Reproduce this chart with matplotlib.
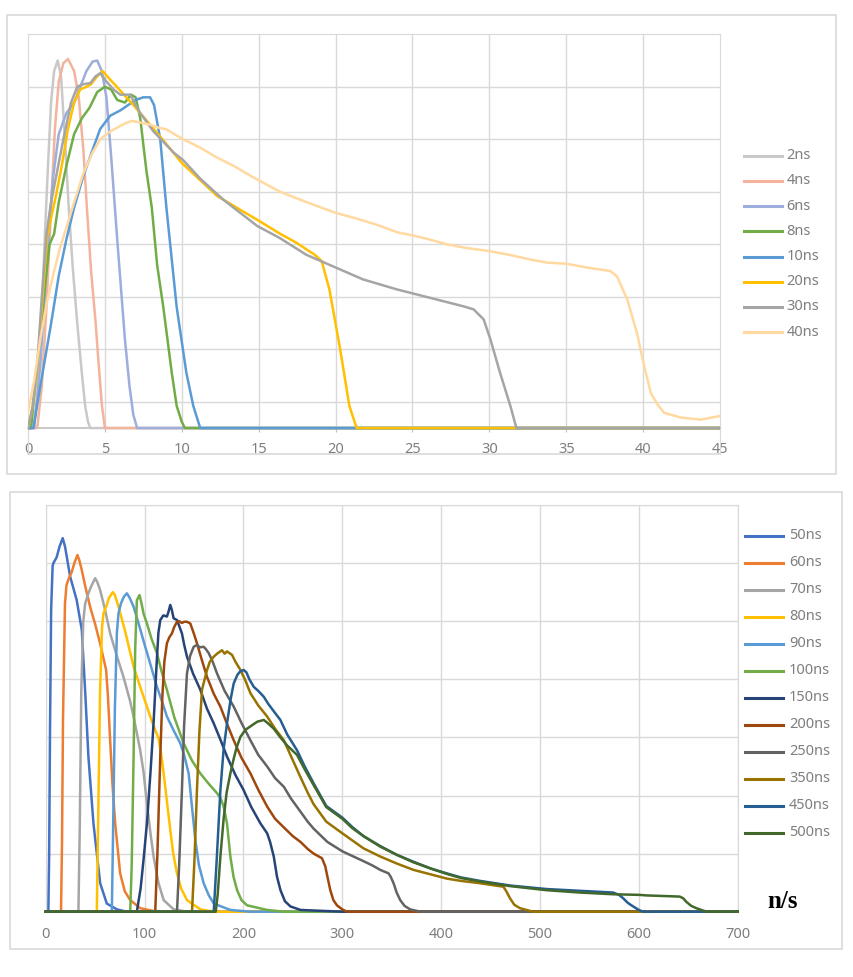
import matplotlib
matplotlib.use('Agg')
import matplotlib.pyplot as plt
from matplotlib.lines import Line2D
from matplotlib.patches import Rectangle
import numpy as np

plt.rcParams['font.family'] = ['Noto Sans', 'DejaVu Sans']

W, H = 854, 977

# ---------------- top panel data (x in ns-axis units, y arbitrary) ----------------
t2_x = [0, 0.37, 0.6, 0.85, 1.1, 1.3, 1.5, 1.7, 1.93, 2.15, 2.4, 2.65, 2.9, 3.2, 3.5, 3.72, 3.9, 4.05, 45]
t2_y = [0, 0, 0.6, 1.8, 3.7, 5.0, 6.2, 6.8, 7.0, 6.7, 5.5, 4.2, 3.1, 2.0, 1.05, 0.42, 0.12, 0, 0]

t4_x = [0, 0.6, 0.9, 1.2, 1.5, 1.75, 2.0, 2.3, 2.6, 3.0, 3.3, 3.6, 3.85, 4.1, 4.4, 4.6, 4.8, 5.0, 45]
t4_y = [0, 0, 0.8, 2.3, 4.2, 5.7, 6.6, 6.95, 7.03, 6.8, 6.3, 5.3, 4.1, 3.0, 2.0, 1.2, 0.45, 0, 0]

t6_x = [0, 0.4, 0.8, 1.2, 1.6, 2.0, 2.5, 3.0, 3.4, 3.8, 4.2, 4.5, 4.8, 5.1, 5.4, 5.8, 6.3, 6.6, 6.85, 7.1, 45]
t6_y = [0, 0, 1.2, 3.0, 4.7, 5.6, 6.0, 6.2, 6.5, 6.8, 6.98, 7.0, 6.8, 6.3, 5.2, 3.6, 1.7, 0.8, 0.25, 0, 0]

t8_x = [0, 0.2, 0.6, 1.0, 1.4, 1.7, 2.0, 2.5, 3.0, 3.5, 4.0, 4.5, 5.0, 5.4, 5.8, 6.3, 6.7, 7.0, 7.3,
        7.7, 8.05, 8.4, 8.8, 9.35, 9.67, 10.0, 10.2, 45]
t8_y = [0, 0, 1.2, 2.4, 3.5, 3.7, 4.3, 5.0, 5.6, 5.9, 6.1, 6.4, 6.5, 6.45, 6.25, 6.2, 6.35, 6.3, 5.9,
        4.9, 4.2, 3.1, 2.3, 1.05, 0.42, 0.12, 0, 0]

t10_x = [0, 0.35, 0.8, 1.45, 2.0, 2.5, 3.0, 3.6, 4.2, 4.7, 5.35, 6.0, 6.5, 7.0, 7.5, 7.94, 8.2, 8.6,
         9.0, 9.67, 10.3, 10.75, 11.2, 45]
t10_y = [0, 0, 0.8, 1.9, 2.9, 3.6, 4.2, 4.8, 5.3, 5.7, 5.95, 6.05, 6.15, 6.25, 6.3, 6.3, 6.15, 5.5,
         4.2, 2.3, 1.05, 0.42, 0, 0]

t20_x = [0, 0.3, 0.6, 0.9, 1.23, 1.5, 1.8, 2.2, 2.6, 3.0, 3.4, 3.8, 4.1, 4.5, 4.85, 5.3, 5.78, 6.86,
         8.6, 10.0, 12.3, 15.0, 16.4, 17.45, 18.65, 19.1, 19.6, 20.3, 20.9, 21.37, 45]
t20_y = [0, 0.4, 1.1, 2.3, 3.6, 4.0, 4.4, 5.0, 5.7, 6.2, 6.45, 6.5, 6.55, 6.7, 6.8, 6.65, 6.5, 6.15,
         5.55, 5.05, 4.42, 3.95, 3.7, 3.53, 3.3, 3.18, 2.64, 1.5, 0.42, 0, 0]

t30_x = [0, 0.3, 0.6, 0.9, 1.2, 1.5, 1.9, 2.3, 2.8, 3.2, 3.6, 4.05, 4.4, 4.7, 5.1, 5.56, 6.0, 6.65,
         7.0, 7.3, 8.16, 9.46, 10.1, 11.2, 12.7, 14.9, 16.37, 18.1, 20.07, 21.8, 24.0, 26.15, 28.3,
         28.98, 29.63, 30.07, 30.7, 31.37, 31.76, 45]
t30_y = [0, 0.4, 1.2, 2.5, 3.7, 4.3, 4.9, 5.5, 6.2, 6.5, 6.55, 6.57, 6.7, 6.76, 6.6, 6.45, 6.35, 6.35,
         6.15, 6.0, 5.65, 5.25, 5.1, 4.75, 4.35, 3.85, 3.62, 3.3, 3.05, 2.83, 2.64, 2.48, 2.32,
         2.26, 2.07, 1.69, 1.05, 0.42, 0, 0]

t40_x = [0, 0.4, 0.8, 1.2, 1.67, 2.1, 2.53, 3.0, 3.6, 4.2, 4.7, 5.2, 5.78, 6.3, 6.75, 7.3, 7.94, 8.5,
         9.0, 9.5, 10.1, 11.2, 12.3, 13.4, 14.5, 15.5, 16.4, 17.7, 18.5, 20.0, 21.5, 22.9, 24.0, 25.0,
         26.0, 27.24, 28.5, 30.0, 31.3, 32.67, 33.8, 35.0, 36.5, 37.87, 38.3, 38.97, 39.6, 40.07,
         40.5, 40.93, 41.37, 42.45, 43.75, 45]
t40_y = [0.3, 0.9, 1.7, 2.35, 2.96, 3.45, 3.85, 4.3, 4.85, 5.25, 5.5, 5.62, 5.72, 5.8, 5.85, 5.82, 5.78,
         5.72, 5.69, 5.6, 5.5, 5.34, 5.15, 4.99, 4.8, 4.64, 4.5, 4.35, 4.26, 4.1, 3.98, 3.85, 3.73,
         3.67, 3.6, 3.5, 3.43, 3.37, 3.3, 3.21, 3.15, 3.13, 3.05, 2.99, 2.89, 2.45, 1.81, 1.18,
         0.67, 0.45, 0.29, 0.2, 0.16, 0.23]

top_labels = ['2ns', '4ns', '6ns', '8ns', '10ns', '20ns', '30ns', '40ns']
top_colors = ['#C9C9C9', '#F4B49C', '#9DAEDC', '#70AD47', '#5B9BD5', '#FFC000', '#A5A5A5', '#FFD9A0']
top_series = [(t2_x, t2_y), (t4_x, t4_y), (t6_x, t6_y), (t8_x, t8_y), (t10_x, t10_y),
              (t20_x, t20_y), (t30_x, t30_y), (t40_x, t40_y)]
top_xticks = [0, 5, 10, 15, 20, 25, 30, 35, 40, 45]

# ---------------- bottom panel data ----------------
b50_x = [0, 2.7, 3.5, 4.4, 5.5, 7.0, 7.8, 11.1, 13.9, 17.2, 19.6, 24.7, 31.4, 36.5, 39.9, 43.2, 48.3,
         55.1, 61.8, 72, 82, 700]
b50_y = [0, 0, 1.0, 3.2, 5.2, 5.95, 6.0, 6.1, 6.28, 6.43, 6.28, 5.77, 5.36, 4.85, 3.8, 2.67, 1.52,
         0.49, 0.14, 0.04, 0, 0]

b60_x = [0, 15.5, 16.5, 17.5, 19.5, 21, 23, 26.4, 29, 32.1, 34, 36.5, 40, 44.9, 50, 55, 61.1, 63,
         65.2, 67.5, 70.3, 75.3, 80, 85.5, 95.6, 112.5, 700]
b60_y = [0, 0, 1.2, 3.3, 5.3, 5.62, 5.72, 5.85, 6.0, 6.14, 6.05, 5.88, 5.6, 5.25, 4.95, 4.62, 4.16, 3.7,
         2.95, 2.2, 1.52, 0.66, 0.35, 0.2, 0.06, 0, 0]

b70_x = [0, 33.1, 34.5, 36, 38, 39.9, 43.2, 46, 50, 52, 55, 60, 65.2, 72, 78.7, 85, 88.9, 95.6, 99,
         102.4, 106, 109.1, 114, 119.3, 129.4, 143, 700]
b70_y = [0, 0, 1.5, 3.8, 5.0, 5.3, 5.48, 5.6, 5.74, 5.68, 5.54, 5.2, 4.79, 4.4, 4.04, 3.65, 3.36, 2.78, 2.4,
         1.86, 1.35, 0.95, 0.5, 0.2, 0.04, 0, 0]

b80_x = [0, 51.7, 53, 55, 57, 58.4, 61.8, 64, 67.9, 70, 73.6, 80, 88.9, 95, 102.4, 108, 114.2, 116.5,
         119.3, 122.6, 126, 129, 132.8, 137, 142.9, 156.4, 170, 700]
b80_y = [0, 0, 1.5, 3.8, 4.9, 5.13, 5.28, 5.4, 5.5, 5.45, 5.25, 4.85, 4.22, 3.9, 3.53, 3.25, 2.98, 2.75,
         2.38, 1.9, 1.41, 1.0, 0.66, 0.4, 0.2, 0.04, 0, 0]

b90_x = [0, 66.9, 68, 70, 72, 73.6, 76, 79, 82.1, 85, 88.9, 95, 100, 105.7, 112, 118, 122.6, 130,
         136.1, 140, 144.6, 148, 151.4, 155, 159.8, 165, 170, 186.8, 207, 700]
b90_y = [0, 0, 1.2, 3.5, 4.8, 5.13, 5.3, 5.42, 5.48, 5.4, 5.25, 4.9, 4.6, 4.27, 3.9, 3.6, 3.36, 3.1,
         2.9, 2.7, 2.38, 1.8, 1.23, 0.8, 0.49, 0.28, 0.14, 0.03, 0, 0]

b100_x = [0, 85.5, 87, 88.9, 90.5, 92.2, 94.9, 97, 99, 102.4, 107, 112.5, 117, 122.6, 130, 139.5, 148,
          156.4, 165, 173.3, 177, 180, 183.4, 186.8, 190, 193.6, 198, 203.7, 224, 240.9, 700]
b100_y = [0, 0, 0.8, 2.67, 4.5, 5.36, 5.45, 5.3, 5.13, 4.96, 4.7, 4.45, 4.15, 3.82, 3.35, 2.9, 2.6,
          2.38, 2.2, 2.04, 1.95, 1.81, 1.52, 0.95, 0.6, 0.37, 0.2, 0.11, 0.03, 0, 0]

b150_x = [0, 92.2, 96, 99, 102.4, 106, 109.1, 112, 114, 115.9, 119, 122.6, 124, 126, 127.5, 129.4, 132.8,
          135, 137.8, 140, 142.9, 149, 156.4, 163, 170, 177, 183.4, 192, 200.3, 208, 217.2, 224, 227,
          230.7, 234, 237.5, 242, 247.6, 257.8, 300, 700]
b150_y = [0, 0, 0.4, 0.9, 1.52, 2.4, 3.24, 4.2, 4.8, 5.02, 5.1, 5.08, 5.15, 5.28, 5.2, 5.05, 5.02,
          4.92, 4.79, 4.6, 4.39, 4.1, 3.82, 3.5, 3.24, 2.95, 2.67, 2.35, 2.09, 1.8, 1.52, 1.35, 1.2,
          0.95, 0.6, 0.37, 0.18, 0.09, 0.03, 0, 0]

b200_x = [0, 110.8, 113, 115.9, 118, 120, 122.6, 125, 127.7, 130, 132.8, 135, 137.8, 140, 142.9, 146.3,
          150, 153, 158, 163.2, 170, 176.7, 183, 190.2, 198, 207.1, 215, 224, 232, 240.9, 250, 257.8,
          265, 271, 279.5, 282.8, 285, 287.9, 291, 294.6, 300, 304.7, 700]
b200_y = [0, 0, 1.0, 2.67, 3.7, 4.3, 4.62, 4.72, 4.79, 4.9, 4.99, 5.0, 4.97, 4.99, 4.99, 4.96,
          4.78, 4.62, 4.33, 4.04, 3.75, 3.53, 3.25, 2.95, 2.65, 2.38, 2.1, 1.81, 1.6, 1.45, 1.3, 1.2,
          1.08, 1.0, 0.92, 0.78, 0.6, 0.37, 0.2, 0.11, 0.04, 0, 0]

b250_x = [0, 132.8, 135, 137.8, 140, 142.9, 146, 149.7, 153, 156, 159.8, 162, 164.9, 169, 173.3, 181,
          190.2, 198, 207.1, 215, 224, 232, 240.9, 248, 257.8, 265, 271, 285, 300, 310, 321.5, 330,
          338.4, 346.8, 349, 351.9, 355, 358.6, 363, 368.7, 378.8, 700]
b250_y = [0, 0, 0.8, 2.09, 3.2, 4.1, 4.4, 4.56, 4.59, 4.55, 4.56, 4.52, 4.45, 4.3, 4.1, 3.8,
          3.53, 3.25, 2.95, 2.7, 2.5, 2.3, 2.15, 1.95, 1.72, 1.55, 1.43, 1.2, 1.04, 0.96, 0.87, 0.8,
          0.72, 0.66, 0.6, 0.49, 0.33, 0.2, 0.1, 0.04, 0, 0]

b350_x = [0, 148, 150.5, 153, 155.5, 158.1, 163.2, 166, 170, 174, 178.4, 181, 183.4, 186, 188.5, 192,
          197, 202, 207.1, 215, 224, 232, 240.9, 247.5, 257.6, 265, 271, 283.8, 300, 321.5, 338.4, 355,
          372, 390, 405.7, 420, 439.4, 463, 466, 469.7, 474, 479.8, 493, 700]
b350_y = [0, 0, 0.9, 2.09, 3.1, 3.82, 4.16, 4.3, 4.39, 4.45, 4.5, 4.44, 4.48, 4.45, 4.42, 4.3,
          4.16, 3.98, 3.76, 3.55, 3.36, 3.15, 2.95, 2.7, 2.32, 2.05, 1.85, 1.55, 1.35, 1.09, 0.95, 0.83,
          0.72, 0.64, 0.57, 0.53, 0.49, 0.43, 0.35, 0.23, 0.12, 0.06, 0, 0]

b450_x = [0, 170, 173, 176.7, 180, 183.4, 187, 190.2, 194, 197, 200.3, 203, 206, 210.5, 215, 220.6, 225,
          230.7, 237.4, 244.3, 254.2, 262, 271, 283.8, 300, 310, 321.5, 338.4, 355, 372, 390, 405.7,
          420, 439.4, 470, 506.7, 540, 574, 580, 584.2, 589, 594.3, 600, 604.4, 700]
b450_y = [0, 0, 0.9, 2.09, 2.8, 3.24, 3.65, 3.93, 4.08, 4.14, 4.16, 4.12, 4.0, 3.87, 3.8, 3.7, 3.58,
          3.45, 3.3, 3.05, 2.78, 2.5, 2.21, 1.82, 1.62, 1.46, 1.3, 1.13, 0.98, 0.86, 0.74, 0.66,
          0.59, 0.53, 0.45, 0.39, 0.36, 0.33, 0.29, 0.23, 0.15, 0.09, 0.03, 0, 0]

b500_x = [0, 172, 174, 176.7, 180, 183, 186.8, 190, 193, 197, 202, 208.8, 214, 220.6, 225, 230.7, 237.4,
          244.3, 254.2, 262, 271, 283.8, 300, 310, 321.5, 338.4, 355, 372, 390, 405.7, 420, 439.4, 470,
          506.7, 540, 574, 600, 608, 625, 641.4, 645, 648, 653, 658.2, 668.4, 700]
b500_y = [0, 0, 0.3, 0.95, 1.6, 2.05, 2.38, 2.62, 2.82, 3.01, 3.13, 3.21, 3.27, 3.3, 3.24, 3.15, 3.0,
          2.86, 2.7, 2.45, 2.18, 1.8, 1.6, 1.44, 1.3, 1.12, 0.98, 0.85, 0.74, 0.65, 0.58, 0.52, 0.44,
          0.37, 0.33, 0.3, 0.29, 0.28, 0.27, 0.26, 0.23, 0.17, 0.1, 0.06, 0, 0]

bot_labels = ['50ns', '60ns', '70ns', '80ns', '90ns', '100ns', '150ns', '200ns', '250ns', '350ns',
              '450ns', '500ns']
bot_colors = ['#4472C4', '#ED7D31', '#A5A5A5', '#FFC000', '#5B9BD5', '#70AD47', '#264478', '#9E480E',
              '#636363', '#997300', '#255E91', '#43682B']
bot_series = [(b50_x, b50_y), (b60_x, b60_y), (b70_x, b70_y), (b80_x, b80_y), (b90_x, b90_y),
              (b100_x, b100_y), (b150_x, b150_y), (b200_x, b200_y), (b250_x, b250_y),
              (b350_x, b350_y), (b450_x, b450_y), (b500_x, b500_y)]
bot_xticks = [0, 100, 200, 300, 400, 500, 600, 700]

GRID = '#D9D9D9'
TXT = '#7F7F7F'


def fx(px):
    return px / W


def fy(py):
    return 1 - py / H


fig = plt.figure(figsize=(W / 100, H / 100), dpi=100)

# outer chart boxes
fig.add_artist(Rectangle((fx(7.3), fy(474.3)), fx(835.7) - fx(7.3), fy(14.7) - fy(474.3),
                         transform=fig.transFigure, fill=False, edgecolor=GRID, lw=1.2))
fig.add_artist(Rectangle((fx(10), fy(949.3)), fx(841.7) - fx(10), fy(492.3) - fy(949.3),
                         transform=fig.transFigure, fill=False, edgecolor=GRID, lw=1.2))

# ---------------- top chart ----------------
ax1 = fig.add_axes([fx(28), fy(454.3), fx(720) - fx(28), fy(34.3) - fy(454.3)])
ax1.set_xlim(0, 45)
ax1.set_ylim(-0.5, 7.5)
ax1.set_yticks(np.arange(0.5, 7.5, 1))
ax1.grid(axis='y', color=GRID, lw=1.0, zorder=0)
ax1.vlines(top_xticks[1:-1], 0, 7.5, color=GRID, lw=1.0, zorder=0)
ax1.tick_params(axis='y', length=0, labelleft=False)
for s in ['left', 'right', 'top']:
    ax1.spines[s].set_color(GRID)
ax1.spines['bottom'].set_position(('data', 0))
ax1.spines['bottom'].set_color('#BFBFBF')
ax1.spines['bottom'].set_linewidth(1.2)
ax1.axhline(-0.5, color=GRID, lw=1.2, clip_on=False, zorder=0)
ax1.set_xticks(top_xticks)
ax1.tick_params(axis='x', length=3, color='#BFBFBF', labelcolor=TXT, labelsize=10.5, pad=7)
for (xs, ys), c in zip(top_series, top_colors):
    ax1.plot(xs, ys, color=c, lw=1.8, solid_joinstyle='round', zorder=3)

for i, (lab, c) in enumerate(zip(top_labels, top_colors)):
    yy = fy(155.7 + 25.2 * i)
    fig.add_artist(Line2D([fx(744.3), fx(782.3)], [yy, yy], transform=fig.transFigure,
                          color=c, lw=2.2))
    fig.text(fx(786.7), yy, lab, color=TXT, fontsize=10.5, va='center', ha='left')

# ---------------- bottom chart ----------------
ax2 = fig.add_axes([fx(45.7), fy(911.7), fx(737.7) - fx(45.7), fy(505) - fy(911.7)])
ax2.set_xlim(0, 700)
ax2.set_ylim(0, 7)
ax2.set_yticks(np.arange(1, 8, 1))
ax2.set_xticks(bot_xticks)
ax2.grid(color=GRID, lw=1.0, zorder=0)
ax2.tick_params(axis='y', length=0, labelleft=False)
ax2.tick_params(axis='x', length=0, labelcolor=TXT, labelsize=10.5, pad=11)
for s in ax2.spines.values():
    s.set_color(GRID)
for (xs, ys), c in zip(bot_series, bot_colors):
    ax2.plot(xs, ys, color=c, lw=1.8, solid_joinstyle='round', zorder=3, clip_on=False)

for i, (lab, c) in enumerate(zip(bot_labels, bot_colors)):
    yy = fy(535.7 + 27.0 * i)
    fig.add_artist(Line2D([fx(745), fx(783.3)], [yy, yy], transform=fig.transFigure,
                          color=c, lw=2.2))
    fig.text(fx(789), yy, lab, color=TXT, fontsize=10.5, va='center', ha='left')

fig.text(fx(783), fy(902), 'n/s', family='Liberation Serif', fontweight='bold', fontsize=18,
         ha='center', va='center', color='black')

fig.savefig('out.png', dpi=100)
